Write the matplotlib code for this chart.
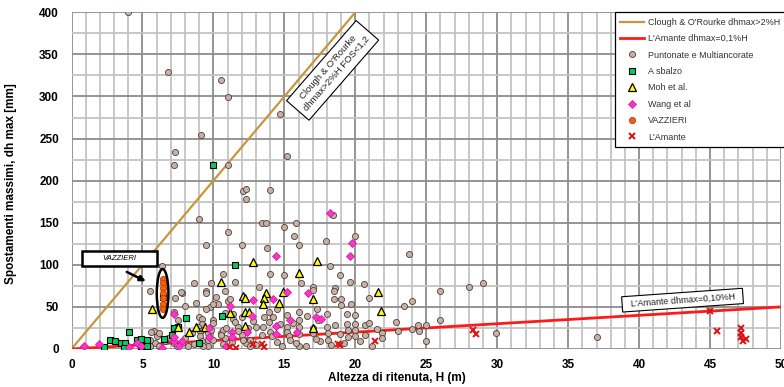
import matplotlib
matplotlib.use("Agg")
import matplotlib.pyplot as plt
from matplotlib.patches import Ellipse, Rectangle
from matplotlib.ticker import MultipleLocator

plt.rcParams["font.family"] = ["Liberation Sans", "DejaVu Sans"]

# Reference lines (H in m, dh in mm)
clough_h = [0, 20]
clough_dh = [0, 400]
amante_line_h = [0, 50]
amante_line_dh = [0, 50]

# Puntonate e Multiancorate
punt_h = [4.0, 6.8, 10.5, 11.0, 9.1, 7.3, 7.2, 11.0, 14.7, 15.2, 12.1, 12.3, 14.0, 12.3,
          9.0, 11.0, 13.4, 13.7, 15.8, 15.0, 15.7, 9.5, 12.0, 16.0, 17.9, 20.0, 18.4, 13.8,
          18.2, 10.7, 14.0, 15.0, 18.9, 9.8, 11.5, 13.2, 17.0, 18.6, 19.6, 20.6, 9.5, 10.8,
          9.5, 19.0, 18.5, 19.7, 6.4, 5.5, 8.6, 7.3, 7.8, 8.8, 8.0, 9.75, 10.3, 11.0, 10.8,
          7.5, 10.2, 11.2, 9.0, 7.2, 7.7, 16.2, 17.0, 18.5, 19.0, 23.8, 24.0, 23.4, 21.0,
          26.0, 28.0, 29.0, 37.0, 13.9, 14.45, 16.0, 17.3, 10.0, 9.5, 15.2, 16.6, 18.0, 19.4,
          20.0, 11.4, 11.4, 12.0, 17.4, 16.0, 10.0, 10.0,
          9.2, 9.2, 9.2, 9.6, 9.6, 9.6, 10.5, 10.7, 10.8, 11.5, 11.75, 12.0, 12.3, 12.6,
          12.6, 13.0, 13.4, 13.5, 13.9, 14.0, 14.1, 15.2, 15.2, 15.3, 15.4, 16.0, 16.0, 16.0,
          17.0, 17.0, 17.5, 18.0, 18.1, 18.1, 18.6, 18.9, 19.4, 19.5, 19.5, 20.0, 20.0, 20.0,
          20.65, 20.65, 21.0, 21.5, 21.85, 21.85, 22.9, 23.0, 24.0, 24.4, 24.5, 25.0, 25.0,
          26.0, 29.9, 5.8, 6.0, 6.8, 7.2, 7.8, 8.0, 8.5, 8.9, 9.05, 9.05, 9.2, 9.3, 9.8,
          10.0, 10.5, 10.9, 11.75, 12.1, 12.45, 6.6, 5.9, 5.5, 5.3, 5.5, 6.2, 7.4, 8.2, 8.6,
          6.2, 5.6, 10.7, 11.3, 13.0, 14.5, 14.8, 15.8, 16.5, 17.2, 18.3, 19.2, 20.3, 21.2,
          13.6, 14.7, 12.8, 14.2, 15.6]
punt_dh = [400, 329, 319, 299, 254, 234, 219, 219, 279, 229, 188, 190, 189, 178,
           155, 139, 150, 150, 150, 145, 134, 124, 124, 124, 128, 134, 159, 120,
           99, 89, 89, 88, 88, 79, 80, 74, 74, 72, 80, 77, 69, 69,
           66, 59, 59, 54, 99, 69, 79, 60, 67, 55, 51, 50, 53, 57, 43,
           35, 62, 59, 38, 44, 68, 79, 70, 69, 52, 113, 57, 51, 61,
           69, 74, 78, 14, 44, 48, 44, 48, 54, 48, 40, 39, 42, 42,
           40, 42, 36, 38, 34, 34, 34, 31,
           36, 30, 22, 19, 11, 3, 19, 22, 13, 32, 26, 17, 7, 11,
           4, 26, 17, 26, 32, 20, 15, 26, 20, 15, 11, 26, 18, 4,
           25, 19, 9, 26, 19, 11, 28, 18, 30, 22, 14, 30, 22, 15,
           28, 17, 31, 24, 19, 13, 32, 21, 24, 29, 21, 28, 9,
           34, 19, 21, 15, 13, 7, 7, 13, 19, 26, 21, 15, 9, 3, 22,
           11, 17, 25, 21, 11, 25, 9, 7, 11, 3, 3, 3, 3, 3, 6,
           19, 20, 6, 8, 5, 8, 3, 7, 3, 12, 5, 7, 9, 4,
           38, 30, 33, 38, 31]

# A sbalzo
sbalzo_h = [10.0, 11.5, 10.6, 8.05, 7.5, 7.2, 7.1, 4.05, 2.7, 3.1, 3.5, 3.8, 3.7, 2.3,
            4.6, 4.9, 5.3, 4.9, 5.3, 6.55, 9.0, 6.45]
sbalzo_dh = [219, 100, 39, 37, 26, 25, 17, 20, 11, 9.5, 7, 7.5, 1, 2.5,
             11, 11.5, 10.5, 3, 3, 11.5, 7.5, 62]

# Moh et al.
moh_h = [5.7, 12.8, 17.3, 16.0, 10.5, 12.1, 12.2, 13.7, 13.6, 13.5, 14.9, 17.0, 14.6,
         12.2, 12.5, 12.2, 17.0, 11.2, 7.5, 8.3, 8.8, 9.4, 21.6, 21.8]
moh_dh = [48, 103, 104.5, 90, 80, 63, 60, 67, 60, 53, 68, 59, 55,
          44, 44, 27, 25, 43, 26.5, 20, 26, 26, 68, 45.5]

# Wang et al
wang_h = [18.2, 19.8, 14.4, 19.6, 12.8, 14.2, 15.2, 16.7, 11.2, 12.7, 15.4, 17.2, 17.6,
          14.4, 9.7, 11.3, 12.4, 15.9, 14.4, 11.3, 10.9, 0.85, 1.95, 4.6, 4.07, 4.9, 6.4,
          7.2, 7.8, 7.6, 9.7, 7.2, 7.2]
wang_dh = [161, 125.5, 110, 110, 58, 59, 68, 67, 51, 39, 35, 38, 36,
           27, 24.6, 20.6, 20.6, 20.6, 17.5, 14.6, 3.6, 3, 6, 7.5, 2.7, 3.6, 1,
           9, 9, 3.6, 14.6, 41, 14.6]

# VAZZIERI
vazz_h = [6.42, 6.42, 6.42, 6.42, 6.42, 6.42, 6.42]
vazz_dh = [83, 78, 72, 66, 60, 53, 47]

# L'Amante
amante_h = [11.2, 11.6, 12.8, 13.4, 13.6, 18.8, 18.9, 21.4, 28.3, 28.5, 45.0, 45.5,
            47.2, 47.2, 47.2, 47.3, 47.5]
amante_dh = [2.7, 1.5, 6, 6.5, 2.7, 6, 5, 9.8, 22.5, 17.5, 45, 21,
             25, 19.5, 14, 10, 11.5]


def main() -> None:
    fig = plt.figure(figsize=(7.84, 3.87), dpi=100)
    ax = fig.add_axes([0.0912, 0.0982, 0.905, 0.870])

    ax.plot(clough_h, clough_dh, color="#c8963c", lw=1.6,
            label="Clough & O'Rourke dhmax>2%H", zorder=3)
    ax.plot(amante_line_h, amante_line_dh, color="#ff1a1a", lw=2.0,
            label="L'Amante dhmax=0,1%H", zorder=3)

    ax.plot(punt_h, punt_dh, ls="none", marker="o", ms=4.4, mfc="#c9b1a2",
            mec="#4a4040", mew=0.6, label="Puntonate e Multiancorate", zorder=4)
    ax.plot(sbalzo_h, sbalzo_dh, ls="none", marker="s", ms=4.5, mfc="#00d060",
            mec="black", mew=0.8, label="A sbalzo", zorder=5)
    ax.plot(moh_h, moh_dh, ls="none", marker="^", ms=5.5, mfc="#ffff00",
            mec="black", mew=0.9, label="Moh et al.", zorder=5)
    ax.plot(wang_h, wang_dh, ls="none", marker="D", ms=3.8, mfc="#ff33cc",
            mec="#d0209a", mew=0.6, label="Wang et al", zorder=5)
    ax.plot(vazz_h, vazz_dh, ls="none", marker="o", ms=4.5, mfc="#f06010",
            mec="#c04000", mew=0.6, label="VAZZIERI", zorder=6)
    ax.plot(amante_h, amante_dh, ls="none", marker="x", ms=4, color="#dd1111",
            mew=1.4, label="L'Amante", zorder=5)

    ax.set_xlim(0, 50)
    ax.set_ylim(0, 400)
    ax.xaxis.set_major_locator(MultipleLocator(5))
    ax.xaxis.set_minor_locator(MultipleLocator(1))
    ax.yaxis.set_major_locator(MultipleLocator(50))
    ax.yaxis.set_minor_locator(MultipleLocator(25))
    ax.grid(which="major", color="#8c8c8c", lw=1.3)
    ax.grid(which="minor", color="#c4c4c4", lw=1.3)
    ax.set_axisbelow(True)
    ax.tick_params(which="both", length=0)
    ax.tick_params(axis="y", pad=9)
    ax.tick_params(axis="x", pad=7)
    for lab in ax.get_xticklabels() + ax.get_yticklabels():
        lab.set_fontweight("bold")
        lab.set_fontsize(8.5)
    for s in ax.spines.values():
        s.set_visible(False)

    ax.set_xlabel("Altezza di ritenuta, H (m)", fontsize=8.5, fontweight="bold")
    ax.xaxis.set_label_coords(0.459, -0.068)
    ax.set_ylabel("Spostamenti massimi, dh max [mm]", fontsize=8.5, fontweight="bold")
    ax.yaxis.set_label_coords(-0.077, 0.49)

    # annotations
    ax.text(18.4, 331, "Clough & O'Rourke\ndhmax>2%H FOS<1,2", rotation=49,
            rotation_mode="anchor", ha="center", va="center", multialignment="center",
            fontsize=6.8, color="#222222", zorder=7,
            bbox=dict(boxstyle="square,pad=0.55", fc="white", ec="black", lw=0.8))
    ax.text(43.06, 58, "  L'Amante dhmax=0,10%H  ", rotation=4, rotation_mode="anchor",
            ha="center", va="center", fontsize=6.5, color="#222222", zorder=7,
            bbox=dict(boxstyle="square,pad=0.35", fc="white", ec="black", lw=0.8))
    ax.add_patch(Rectangle((0.72, 98.9), 5.28, 17.5, fc="white", ec="black",
                           lw=1.8, zorder=7))
    ax.text(3.36, 107.7, "VAZZIERI", ha="center", va="center", fontsize=5.5,
            style="italic", zorder=8)
    ax.add_patch(Ellipse((6.42, 66), 0.82, 58, fill=False, ec="black", lw=1.8, zorder=7))
    ax.annotate("", xy=(5.41, 79), xytext=(3.72, 93),
                arrowprops=dict(arrowstyle="-|>", lw=1.8, color="black",
                                mutation_scale=8), zorder=8)

    leg = ax.legend(loc="upper left", bbox_to_anchor=(0.766, 1.0), borderaxespad=0,
                    fontsize=6.5, frameon=True, fancybox=False, edgecolor="black",
                    framealpha=1, handlelength=2.6, labelspacing=0.82,
                    borderpad=0.6, handletextpad=0.5)
    leg.get_frame().set_linewidth(0.9)
    for t in leg.get_texts():
        t.set_color("#333333")

    fig.savefig("out.png", dpi=100)
    plt.close(fig)


if __name__ == "__main__":
    main()
